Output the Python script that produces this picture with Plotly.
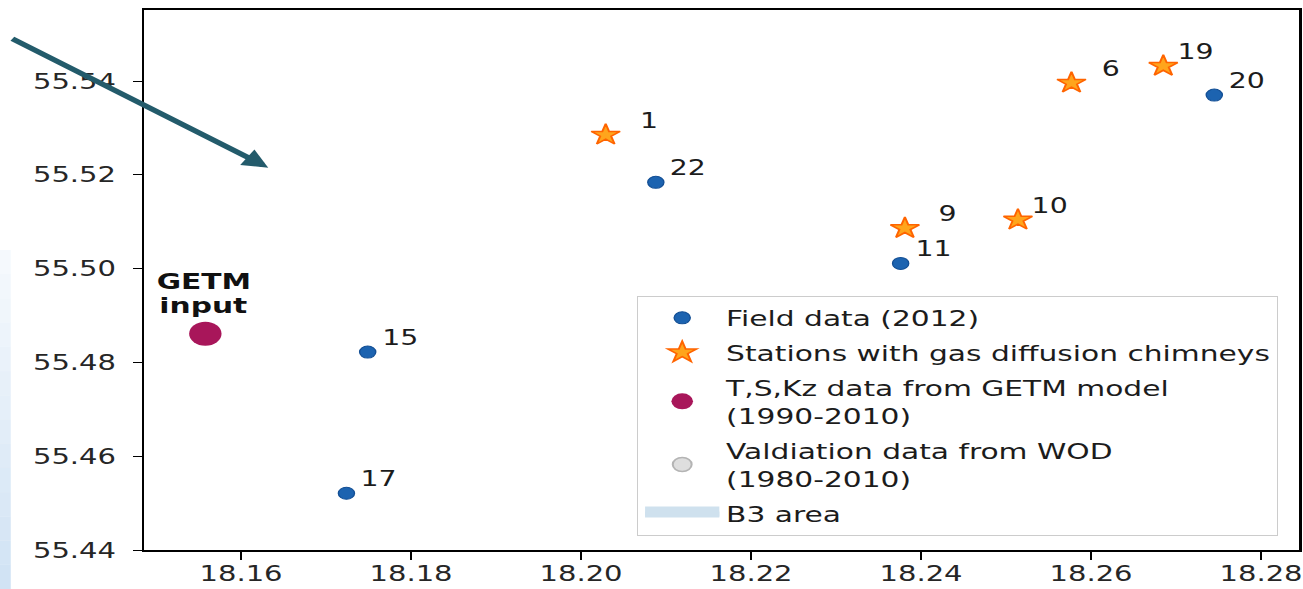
import plotly.graph_objects as go

# ---- data -----------------------------------------------------------------
# Field data (2012): station id, longitude, latitude
field_ids = ["22", "11", "20", "15", "17"]
field_lon = [18.2088, 18.2376, 18.2745, 18.1749, 18.1724]
field_lat = [55.5184, 55.5011, 55.5370, 55.4822, 55.4521]

# Stations with gas diffusion chimneys
chimney_ids = ["1", "9", "10", "6", "19"]
chimney_lon = [18.2029, 18.2381, 18.2514, 18.2577, 18.2685]
chimney_lat = [55.5285, 55.5086, 55.5104, 55.5396, 55.5432]

# GETM model grid point used as input
getm_lon = [18.1558]
getm_lat = [55.4861]

x_ticks = [18.16, 18.18, 18.20, 18.22, 18.24, 18.26, 18.28]
y_ticks = [55.44, 55.46, 55.48, 55.50, 55.52, 55.54]

# ---- styling --------------------------------------------------------------
FONT = "DejaVu Sans"
TXT = "#1c1c1c"
BLUE, BLUE_EDGE = "#1c63b0", "#134f95"
STAR_FILL, STAR_EDGE = "#ffa51c", "#ff6400"
GETM_COLOR = "#a8165a"
WOD_FILL, WOD_EDGE = "#dedede", "#b4b4b4"
B3_COLOR = "#cfe1ee"
ARROW = "#235b6b"

W, H = 965, 589          # drawing size before the horizontal stretch
STRETCH = 1303 / W
ML, MR, MT, MB = 107, 3, 10, 39
PW, PH = W - ML - MR, H - MT - MB

# extra horizontal gap (px) for a few station labels
label_dx = {"1": 23, "9": 22.5, "6": 20}

fig = go.Figure()

fig.add_trace(go.Scatter(
    x=field_lon, y=field_lat, mode="markers", name="Field data (2012)",
    legendgroup="field",
    marker=dict(size=12, color=BLUE, line=dict(color=BLUE_EDGE, width=1)),
    cliponaxis=False))

fig.add_trace(go.Scatter(
    x=chimney_lon, y=chimney_lat, mode="markers",
    name="Stations with gas diffusion chimneys", legendgroup="chimney",
    marker=dict(symbol="star", size=16, color=STAR_FILL,
                line=dict(color=STAR_EDGE, width=1.5)),
    cliponaxis=False))

fig.add_trace(go.Scatter(
    x=getm_lon, y=getm_lat, mode="markers",
    name="T,S,Kz data from GETM model<br>(1990-2010)", legendgroup="getm",
    marker=dict(size=24, color=GETM_COLOR), cliponaxis=False))

fig.add_trace(go.Scatter(
    x=[None], y=[None], mode="markers",
    name="Valdiation data from WOD<br>(1980-2010)", legendgroup="wod",
    marker=dict(size=14, color=WOD_FILL, line=dict(color=WOD_EDGE, width=1.5))))

fig.add_trace(go.Scatter(
    x=[None], y=[None], mode="lines", fill="toself", fillcolor=B3_COLOR,
    line=dict(color=B3_COLOR, width=14), name="B3 area", legendgroup="b3"))

# station number labels
annotations = []
for ids, xs, ys in ((field_ids, field_lon, field_lat),
                    (chimney_ids, chimney_lon, chimney_lat)):
    for sid, xv, yv in zip(ids, xs, ys):
        annotations.append(dict(
            x=xv, y=yv, xref="x", yref="y", text=sid, showarrow=False,
            xanchor="left", yanchor="middle",
            xshift=label_dx.get(sid, 8.5), yshift=14,
            font=dict(family=FONT, size=21, color=TXT)))

# "GETM input" tag above the model point
for word, dy in (("GETM", 52), ("input", 28)):
    annotations.append(dict(
        x=getm_lon[0], y=getm_lat[0], xref="x", yref="y",
        text="<b>" + word + "</b>", showarrow=False,
        xanchor="center", yanchor="middle", xshift=-1, yshift=dy,
        font=dict(family=FONT, size=22, color="#111111")))

# pointer arrow in the upper-left corner
annotations.append(dict(
    x=18.1632, y=55.5215, xref="x", yref="y", text="",
    showarrow=True, ax=-191, ay=-130, axref="pixel", ayref="pixel",
    arrowcolor=ARROW, arrowwidth=5, arrowhead=2, arrowsize=0.75))

# soft blue strip along the left edge of the figure
shapes = []
n_bands = 14
x0p, x1p = -ML / PW, (-ML + 8) / PW
ytop, ybot = (550 - 250) / PH, -MB / PH
for i in range(n_bands):
    ya = ytop - (ytop - ybot) * i / n_bands
    yb = ytop - (ytop - ybot) * (i + 1) / n_bands
    shapes.append(dict(
        type="rect", xref="paper", yref="paper", x0=x0p, x1=x1p,
        y0=yb, y1=ya, line=dict(width=0), fillcolor="#b9d4ee",
        opacity=0.10 + 0.55 * (i + 1) / n_bands, layer="below"))

axis_common = dict(
    showline=True, linecolor="black", linewidth=1.6, mirror=True,
    ticks="outside", tickcolor="black", tickwidth=1.4,
    showgrid=False, zeroline=False, tickformat=".2f", automargin=False,
    tickfont=dict(family=FONT, size=21.5, color="#262626"))

fig.update_layout(
    width=W, height=H,
    margin=dict(l=ML, r=MR, t=MT, b=MB, pad=0, autoexpand=False),
    paper_bgcolor="white", plot_bgcolor="white",
    font=dict(family=FONT, color=TXT),
    xaxis=dict(range=[18.14864, 18.28446], tickvals=x_ticks, ticklen=8,
               ticklabelstandoff=-5, **axis_common),
    yaxis=dict(range=[55.44, 55.55514], tickvals=y_ticks, ticklen=7,
               ticklabelstandoff=8, **axis_common),
    legend=dict(
        x=0.4266, y=0.4704, xanchor="left", yanchor="top",
        bgcolor="white", bordercolor="#cccccc", borderwidth=1,
        font=dict(family=FONT, size=22, color=TXT),
        itemwidth=55, tracegroupgap=3),
    annotations=annotations,
    shapes=shapes,
)

# the figure is shown stretched horizontally across the full 1303 px width
post = ("document.documentElement.style.overflow='hidden';"
        "document.body.style.margin='0';"
        "var gd=document.getElementById('{plot_id}');"
        "gd.style.transformOrigin='0 0';"
        "gd.style.transform='scaleX(" + repr(STRETCH) + ")';")

fig.write_html("out.html", post_script=post)
